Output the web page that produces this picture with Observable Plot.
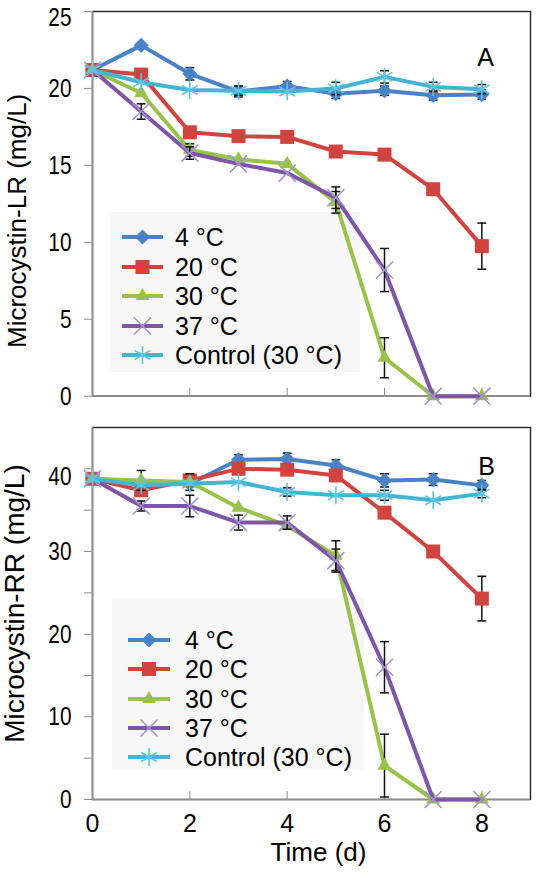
<!DOCTYPE html>
<html><head><meta charset="utf-8">
<script src="https://cdn.jsdelivr.net/npm/d3@7"></script>
<script src="https://cdn.jsdelivr.net/npm/@observablehq/plot@0.6"></script>
<style>
body{margin:0;background:#fff;}
#wrap{position:relative;width:540px;height:885px;font-family:"Liberation Sans",Arial,sans-serif;}
#wrap > svg.panel{display:block;position:relative;z-index:1;}
#legend{position:absolute;left:0;top:0;z-index:0;}
</style></head><body><div id="wrap"></div>
<script>
// ---------- data ----------
const days = [0, 1, 2, 3, 4, 5, 6, 7, 8];
const seriesNames = ["4 °C", "20 °C", "30 °C", "37 °C", "Control (30 °C)"];
const xTicks = [0, 2, 4, 6, 8];
const yTicksA = [0, 5, 10, 15, 20, 25];
const yTicksB = [0, 5, 10, 15, 20, 25, 30, 35, 40];
const yLabelsB = [0, 10, 20, 30, 40];

// Panel A: Microcystin-LR (mg/L)
const lr4   = [21.2, 22.8, 20.95, 19.8, 20.15, 19.65, 19.85, 19.55, 19.6];
const lr20  = [21.2, 20.9, 17.15, 16.9, 16.85, 15.9, 15.7, 13.45, 9.75];
const lr30  = [21.2, 19.7, 16.0, 15.4, 15.1, 12.6, 2.5, 0, 0];
const lr37  = [21.2, 18.5, 15.8, 15.1, 14.5, 12.9, 8.2, 0, 0];
const lrCtl = [21.2, 20.4, 19.9, 19.85, 19.8, 20.0, 20.75, 20.1, 19.95];
const lr4Err   = [0, 0, 0.4, 0.35, 0.3, 0.3, 0.3, 0.3, 0.3];
const lr20Err  = [0, 0, 0.3, 0, 0, 0, 0, 0, 1.5];
const lr30Err  = [0, 0, 0.4, 0, 0, 0.7, 1.3, 0, 0];
const lr37Err  = [0, 0.5, 0.4, 0, 0, 0.7, 1.4, 0, 0];
const lrCtlErr = [0, 0, 0, 0.3, 0, 0.4, 0.4, 0.3, 0.3];

// Panel B: Microcystin-RR (mg/L)
const rr4   = [38.8, 38.3, 38.2, 41.1, 41.2, 40.4, 38.6, 38.7, 38.0];
const rr20  = [38.8, 37.4, 38.6, 40.0, 39.9, 39.2, 34.7, 30.0, 24.3];
const rr30  = [38.8, 38.6, 38.4, 35.3, 33.1, 29.5, 4.1, 0, 0];
const rr37  = [38.8, 35.5, 35.5, 33.5, 33.5, 28.9, 16.0, 0, 0];
const rrCtl = [38.8, 38.0, 38.2, 38.4, 37.2, 36.8, 36.8, 36.2, 37.0];
const rr4Err   = [0, 0, 0, 0.6, 0.7, 0.7, 0.8, 0.7, 0.6];
const rr20Err  = [0, 0.6, 0, 0, 0, 0, 0, 0, 2.7];
const rr30Err  = [0, 1.2, 1.0, 0, 0, 1.8, 3.8, 0, 0];
const rr37Err  = [0, 0.6, 1.3, 0.9, 0.8, 1.4, 3.1, 0, 0];
const rrCtlErr = [0, 0, 0, 0, 0.5, 0, 0.6, 0, 0.5];

// ---------- styles ----------
const colors = ["#4a82c6", "#d04440", "#98c24a", "#7d56a6", "#44b4d2"];
const mFill = ["#4a82c6", "#d04440", "#98c24a", "none", "none"];
const mStroke = ["none", "none", "none", "#a592d4", "#5cc6e4"];
const symbols = ["diamond2", "square", "triangle", "times", "asterisk"];
const d3Symbols = [d3.symbolDiamond2, d3.symbolSquare, d3.symbolTriangle, d3.symbolTimes, d3.symbolAsterisk];
const symR = [6.8, 7.9, 5.2, 7.8, 8.5];
const axisGray = "#8c8c8c";
const FONT = "Liberation Sans, Arial, sans-serif";

const capSymbol = {draw(ctx, size) { const w = Math.sqrt(size) / 2; ctx.moveTo(-w, 0); ctx.lineTo(w, 0); }};

function tidy(vals, errs) {
  const rows = [];
  seriesNames.forEach((s, i) => days.forEach((d, j) => rows.push({series: s, si: i, day: d, value: vals[i][j], err: errs[i][j]})));
  return rows;
}

function panel(o) {
  const rows = tidy(o.vals, o.errs);
  const marks = [
    Plot.frame({stroke: "#222", strokeWidth: 1.4}),
    Plot.ruleX([0], {stroke: axisGray, strokeWidth: 1.5}),
    Plot.ruleY([0], {stroke: axisGray, strokeWidth: 1.5}),
    Plot.axisY({ticks: o.yTicks, tickFormat: o.yFormat, tickSize: 8, tickPadding: 13, stroke: axisGray, fill: "#000", fontSize: 26, label: null}),
    Plot.axisX({ticks: xTicks, tickSize: -8, tickPadding: 23, stroke: axisGray, fill: "#000", fontSize: 25, label: null,
      tickFormat: o.xLabels ? (d => String(d)) : (() => "")})
  ];
  seriesNames.forEach((s, i) => {
    const sr = rows.filter(d => d.si === i);
    const er = sr.filter(d => d.err > 0);
    marks.push(Plot.line(sr, {x: "day", y: "value", stroke: colors[i], strokeWidth: 4, strokeLinejoin: "round"}));
    marks.push(Plot.ruleX(er, {x: "day", y1: d => Math.max(0, d.value - d.err), y2: d => d.value + d.err, stroke: "#111", strokeWidth: 1.5}));
    marks.push(Plot.dot(er, {x: "day", y: d => d.value + d.err, symbol: capSymbol, r: 5, fill: "none", stroke: "#111", strokeWidth: 1.5}));
    marks.push(Plot.dot(er, {x: "day", y: d => Math.max(0, d.value - d.err), symbol: capSymbol, r: 5, fill: "none", stroke: "#111", strokeWidth: 1.5}));
    marks.push(Plot.dot(sr, {x: "day", y: "value", symbol: symbols[i], r: symR[i], fill: mFill[i], stroke: mStroke[i], strokeWidth: 1.6}));
  });
  marks.push(Plot.text([o.letter], {text: d => d, frameAnchor: "top-right", dx: o.letterDx, dy: o.letterDy, fontSize: 25, fill: "#000", textAnchor: "middle"}));
  marks.push(Plot.text([o.yLabel], {text: d => d, frameAnchor: "left", rotate: -90, dx: o.yLabelDx, dy: o.yLabelDy, fontSize: o.yLabelSize, fill: "#000", textAnchor: "middle", lineAnchor: "middle"}));
  if (o.xTitle) marks.push(Plot.text([o.xTitle], {text: d => d, frameAnchor: "bottom", dx: 7, dy: 61, fontSize: 26, fill: "#000", textAnchor: "middle"}));
  const svg = Plot.plot({
    width: 540, height: o.height,
    marginTop: o.marginTop, marginBottom: o.marginBottom, marginLeft: 92, marginRight: 10,
    x: {domain: [0, 9]},
    y: {domain: o.yDomain},
    style: {fontFamily: FONT, color: "#000", background: "transparent", overflow: "visible"},
    marks
  });
  svg.classList.add("panel");
  svg.querySelectorAll('g[aria-label="y-axis tick label"] text').forEach(t => {
    const tr = t.getAttribute("transform");
    if (!tr) return;
    const nudge = t.textContent === o.topLabel ? ` translate(0,${o.topNudge})` : "";
    t.setAttribute("transform", tr + nudge + " scale(0.8,1)");
  });
  return svg;
}

const wrap = document.getElementById("wrap");

// ---------- legends (drawn beneath the panels) ----------
const leg = d3.select(wrap).append("svg").attr("id", "legend").attr("width", 540).attr("height", 885)
  .style("font-family", FONT);
function legend(g, box, lineX0, lineX1, textX, ys) {
  g.append("rect").attr("x", box[0]).attr("y", box[1]).attr("width", box[2]).attr("height", box[3]).attr("fill", "#f7f7f7");
  seriesNames.forEach((s, i) => {
    const y = ys[i];
    g.append("line").attr("x1", lineX0).attr("x2", lineX1).attr("y1", y).attr("y2", y)
      .attr("stroke", colors[i]).attr("stroke-width", 4);
    g.append("path").attr("d", d3.symbol(d3Symbols[i], Math.PI * symR[i] * symR[i])())
      .attr("transform", `translate(${(lineX0 + lineX1) / 2},${y})`)
      .attr("fill", mFill[i]).attr("stroke", mStroke[i]).attr("stroke-width", 1.6);
    g.append("text").attr("x", textX).attr("y", y).attr("dy", "0.36em").attr("font-size", 25).attr("fill", "#000").text(s);
  });
}
legend(leg.append("g"), [110, 212, 250, 160], 122, 163, 175, [237, 267, 296, 326, 355]);
legend(leg.append("g"), [112, 598, 252, 172], 128, 170, 185, [640, 669, 699, 728, 757]);

wrap.appendChild(panel({
  vals: [lr4, lr20, lr30, lr37, lrCtl], errs: [lr4Err, lr20Err, lr30Err, lr37Err, lrCtlErr],
  height: 412, marginTop: 11, marginBottom: 16.3, yDomain: [0, 25],
  yTicks: yTicksA, yFormat: d => String(d), xLabels: false, topLabel: "25", topNudge: 6,
  letter: "A", letterDx: -45, letterDy: 37,
  yLabel: "Microcystin-LR (mg/L)", yLabelDx: -75, yLabelDy: 17, yLabelSize: 26
}));
wrap.appendChild(panel({
  vals: [rr4, rr20, rr30, rr37, rrCtl], errs: [rr4Err, rr20Err, rr30Err, rr37Err, rrCtlErr],
  height: 473, marginTop: 15, marginBottom: 86, yDomain: [0, 45],
  yTicks: yTicksB, yFormat: d => (yLabelsB.includes(d) ? String(d) : ""), xLabels: true, topLabel: "40", topNudge: 8,
  letter: "B", letterDx: -44, letterDy: 30,
  yLabel: "Microcystin-RR (mg/L)", yLabelDx: -77, yLabelDy: -10, yLabelSize: 28,
  xTitle: "Time (d)"
}));
</script></body></html>
